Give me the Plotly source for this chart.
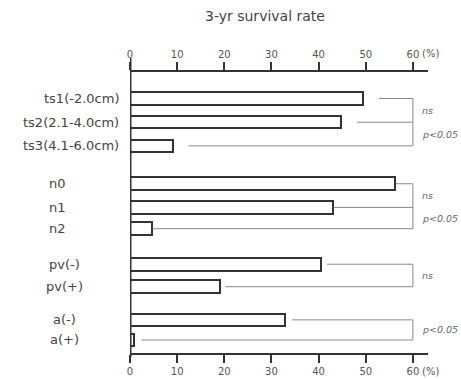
import plotly.graph_objects as go

# ---------------- data ----------------
title_text = "3-yr survival rate"
x_tick_values = [0, 10, 20, 30, 40, 50, 60]
x_unit = "(%)"

ts_labels = ["ts1(-2.0cm)", "ts2(2.1-4.0cm)", "ts3(4.1-6.0cm)"]
ts_values = [49.5, 44.8, 9.1]
ts_tests = ["ns", "p<0.05"]

n_labels = ["n0", "n1", "n2"]
n_values = [56.2, 43.0, 4.6]
n_tests = ["ns", "p<0.05"]

pv_labels = ["pv(-)", "pv(+)"]
pv_values = [40.6, 19.0]
pv_tests = ["ns"]

a_labels = ["a(-)", "a(+)"]
a_values = [32.8, 0.8]
a_tests = ["p<0.05"]

# ---------------- layout / style ----------------
W, H = 461, 379
ML, MR, MT, MB = 130, 33, 72, 26
X_MAX = 63.2
BRACKET_X = 60
FONT = "DejaVu Sans"
DARK = "#333333"
TEXT = "#444444"
GRAY = "#888888"

row_pos = [0, 1, 2, 3.6, 4.6, 5.5, 7.0, 7.95, 9.35, 10.2]
Y_RANGE = [10.75, -1.12]

groups = [
    dict(labels=ts_labels, values=ts_values, tests=ts_tests, gap=3.3, align="right"),
    dict(labels=n_labels, values=n_values, tests=n_tests, gap=0.2, align="center", cx=57),
    dict(labels=pv_labels, values=pv_values, tests=pv_tests, gap=1.2, align="center", cx=64),
    dict(labels=a_labels, values=a_values, tests=a_tests, gap=1.6, align="center", cx=64),
]

plot_w = W - ML - MR
plot_h = H - MT - MB


def px_to_paper_x(px):
    return (px - ML) / plot_w


def px_to_paper_y(py):
    return (H - MB - py) / plot_h


fig = go.Figure()

all_vals, all_pos = [], []
k = 0
for g in groups:
    g["pos"] = row_pos[k:k + len(g["values"])]
    k += len(g["values"])
    all_vals += g["values"]
    all_pos += g["pos"]

# bars
fig.add_trace(go.Bar(
    x=all_vals, y=all_pos, orientation="h", width=0.53,
    marker=dict(color="white", line=dict(color=DARK, width=2)),
    showlegend=False, hoverinfo="skip",
))

annotations = []
for g in groups:
    # bracket connector lines
    for v, p in zip(g["values"], g["pos"]):
        fig.add_trace(go.Scatter(
            x=[v + g["gap"], BRACKET_X], y=[p, p], mode="lines",
            line=dict(color=GRAY, width=1), showlegend=False, hoverinfo="skip"))
    fig.add_trace(go.Scatter(
        x=[BRACKET_X, BRACKET_X], y=[g["pos"][0], g["pos"][-1]], mode="lines",
        line=dict(color=GRAY, width=1), showlegend=False, hoverinfo="skip"))
    # test labels between consecutive bars
    for i, t in enumerate(g["tests"]):
        ym = (g["pos"][i] + g["pos"][i + 1]) / 2
        annotations.append(dict(
            x=BRACKET_X, y=ym, xref="x", yref="y", xanchor="left", yanchor="middle",
            xshift=7, showarrow=False,
            text=t.replace("<", "&lt;"),
            font=dict(family=FONT, size=9.5, color="#666666", style="italic")))
    # category labels
    for lab, p in zip(g["labels"], g["pos"]):
        if g["align"] == "right":
            annotations.append(dict(
                x=px_to_paper_x(121), y=p, xref="paper", yref="y",
                xanchor="right", yanchor="middle", showarrow=False, text=lab,
                font=dict(family=FONT, size=13, color=TEXT)))
        else:
            annotations.append(dict(
                x=px_to_paper_x(g["cx"]), y=p, xref="paper", yref="y",
                xanchor="center", yanchor="middle", showarrow=False, text=lab,
                font=dict(family=FONT, size=13, color=TEXT)))

# invisible trace for top axis
fig.add_trace(go.Scatter(x=[0], y=[0], xaxis="x2", mode="markers",
                         marker=dict(opacity=0), showlegend=False, hoverinfo="skip"))

# unit labels
for yp, ya in [(1, "bottom"), (0, "top")]:
    annotations.append(dict(
        x=x_tick_values[-1], y=yp, xref="x", yref="paper", xanchor="left",
        yanchor=ya, xshift=7, yshift=(11 if yp == 1 else -11), showarrow=False,
        text=x_unit, font=dict(family=FONT, size=10, color="#555555")))

# title
annotations.append(dict(
    x=px_to_paper_x(265), y=px_to_paper_y(16), xref="paper", yref="paper",
    xanchor="center", yanchor="middle", showarrow=False, text=title_text,
    font=dict(family=FONT, size=14, color=TEXT)))

axis_common = dict(
    range=[0, X_MAX], tickvals=x_tick_values, ticks="outside", ticklen=8,
    tickwidth=2, tickcolor=DARK, showline=True, linewidth=2, linecolor=DARK,
    showgrid=False, zeroline=False, automargin=False,
    tickfont=dict(family=FONT, size=10, color="#555555"),
)

fig.update_layout(
    width=W, height=H,
    margin=dict(l=ML, r=MR, t=MT, b=MB, pad=0, autoexpand=False),
    paper_bgcolor="white", plot_bgcolor="white",
    xaxis=dict(**axis_common, side="bottom"),
    xaxis2=dict(**axis_common, side="top", overlaying="x", anchor="y"),
    yaxis=dict(range=Y_RANGE, showticklabels=False, ticks="", showgrid=False,
               zeroline=False, showline=False, automargin=False),
    annotations=annotations,
    shapes=[dict(type="line", xref="x", yref="paper", x0=0, x1=0,
                 y0=px_to_paper_y(357), y1=px_to_paper_y(58),
                 line=dict(color=DARK, width=3))],
    bargap=0,
)

fig.write_html(
    "out.html",
    config={"displayModeBar": False},
    post_script="document.body.style.margin='0';document.body.style.overflow='hidden';",
)
